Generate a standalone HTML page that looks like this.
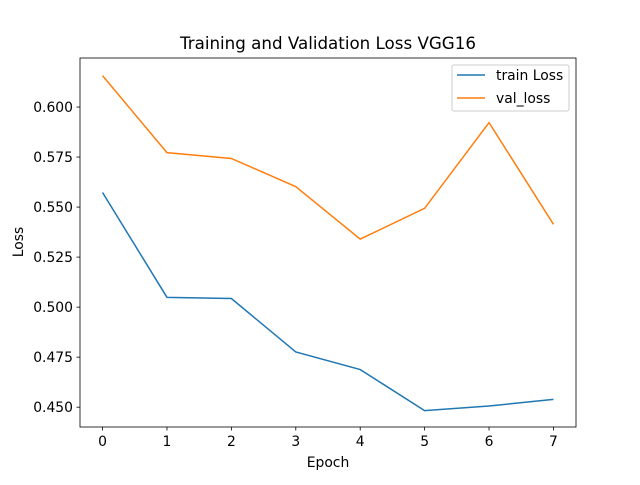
<!DOCTYPE html>
<html><head><meta charset="utf-8"><style>
body{margin:0;background:#fff;font-family:"Liberation Sans","DejaVu Sans",sans-serif}
svg text{font-family:"DejaVu Sans","Liberation Sans",sans-serif;fill:#000}
</style></head><body>
<svg id="c" width="640" height="480" xmlns="http://www.w3.org/2000/svg">
<rect width="640" height="480" fill="#fff"/>
</svg>
<script>
const epochs=[0,1,2,3,4,5,6,7];
const trainLoss=[0.5573,0.5049,0.5043,0.4776,0.4688,0.4483,0.4506,0.4539];
const valLoss=[0.6157,0.5772,0.5743,0.5602,0.5340,0.5494,0.5922,0.5414];
const yTicks=[0.450,0.475,0.500,0.525,0.550,0.575,0.600];
const xTicks=[0,1,2,3,4,5,6,7];
const L=80,R=576,T=58,B=427;
const xMin=-0.35,xMax=7.35,yMin=0.4401,yMax=0.6245;
const sx=v=>L+(v-xMin)/(xMax-xMin)*(R-L);
const sy=v=>B-(v-yMin)/(yMax-yMin)*(B-T);
const svg=document.getElementById('c');const NS='http://www.w3.org/2000/svg';
function mk(t,a,p){const e=document.createElementNS(NS,t);for(const k in a)e.setAttribute(k,a[k]);(p||svg).appendChild(e);return e;}
xTicks.forEach(v=>{const x=sx(v);
const l=mk('line',{x1:x,x2:x,y1:B,y2:B+3.5,stroke:'#000','stroke-width':0.8});


const t=mk('text',{x:x,y:B+19,'text-anchor':'middle','font-size':13.9});t.textContent=v;

});
yTicks.forEach(v=>{const y=sy(v);
const l=mk('line',{x1:L-3.5,x2:L,y1:y,y2:y,stroke:'#000','stroke-width':0.8});


const t=mk('text',{x:L-7,y:y+5,'text-anchor':'end','font-size':13.9});t.textContent=v.toFixed(3);

});
function series(vals,color,name){const p=mk('polyline',{points:vals.map((v,i)=>sx(epochs[i])+','+sy(v)).join(' '),fill:'none',stroke:color,'stroke-width':1.5});

}
series(trainLoss,'#1f77b4','train-loss-line');
series(valLoss,'#ff7f0e','val-loss-line');
const f=mk('rect',{x:L,y:T,width:R-L,height:B-T,fill:'none',stroke:'#000','stroke-width':0.8});


</script>
<svg style="position:absolute;left:0;top:0" width="640" height="480">
<text x="328" y="49" text-anchor="middle" font-size="16.7">Training and Validation Loss VGG16</text>
<text x="328" y="467" text-anchor="middle" font-size="13.9">Epoch</text>
<text transform="translate(23,242) rotate(-90)" text-anchor="middle" font-size="13.9">Loss</text>
<g>
<rect x="452" y="65" width="117" height="46" rx="2" fill="#fff" stroke="#ccc" stroke-width="1"/>
<line x1="457" x2="485" y1="75" y2="75" stroke="#1f77b4" stroke-width="1.5"/>
<text x="496" y="80" font-size="13.9">train Loss</text>
<line x1="457" x2="485" y1="98" y2="98" stroke="#ff7f0e" stroke-width="1.5"/>
<text x="496" y="103" font-size="13.9">val_loss</text>
</g>
</svg>
</body></html>
